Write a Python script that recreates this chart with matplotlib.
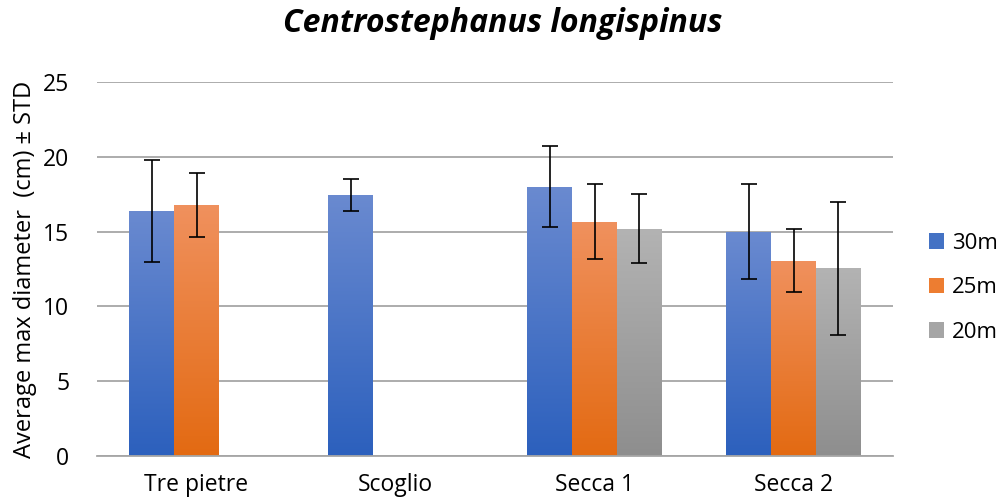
import numpy as np
import matplotlib
matplotlib.use("Agg")
import matplotlib.pyplot as plt
from matplotlib.colors import LinearSegmentedColormap
from matplotlib.patches import Rectangle

sites = ["Tre pietre", "Scoglio", "Secca 1", "Secca 2"]
depths = ["30m", "25m", "20m"]
mean_30 = [16.4, 17.45, 18.0, 15.0]
mean_25 = [16.8, np.nan, 15.65, 13.05]
mean_20 = [np.nan, np.nan, 15.2, 12.55]
std_30 = [3.4, 1.05, 2.7, 3.2]
std_25 = [2.15, np.nan, 2.5, 2.1]
std_20 = [np.nan, np.nan, 2.3, 4.45]

means = [mean_30, mean_25, mean_20]
stds = [std_30, std_25, std_20]
# (top colour, bottom colour) of each series' vertical gradient
grad = [("#6a8ad0", "#2c60bd"), ("#f0915e", "#e36a12"), ("#b3b3b3", "#8e8e8e")]
solid = ["#4472c4", "#ed7d31", "#a5a5a5"]

plt.rcParams["font.family"] = ["Open Sans", "DejaVu Sans"]

fig = plt.figure(figsize=(10.05, 5.0), dpi=100)
ax = fig.add_axes([97 / 1005, 44 / 500, 796 / 1005, 374 / 500])

x = np.arange(len(sites))
w = 0.226
for i, (m, s) in enumerate(zip(means, stds)):
    pos = x + (i - 1) * w
    bars = ax.bar(pos, m, width=w, color="none", edgecolor="none", zorder=2)
    cmap = LinearSegmentedColormap.from_list(f"g{i}", [grad[i][1], grad[i][0]])
    for b, val in zip(bars, m):
        if np.isnan(val):
            continue
        x0, wd = b.get_x(), b.get_width()
        img = ax.imshow(np.linspace(0, 1, 256).reshape(-1, 1), cmap=cmap,
                        aspect="auto", origin="lower",
                        extent=[x0, x0 + wd, 0, val], zorder=2)
        img.set_clip_path(Rectangle((x0, 0), wd, val, transform=ax.transData))
    ax.errorbar(pos, m, yerr=s, fmt="none", ecolor="black", elinewidth=1.2,
                capsize=6, capthick=1.2, zorder=3)
    ax.bar([np.nan], [np.nan], color=solid[i], label=depths[i])

ax.set_xlim(-0.5, len(sites) - 0.5)
ax.set_ylim(0, 25)
ax.set_yticks(range(0, 26, 5))
ax.set_xticks(x)
ax.set_xticklabels(sites)
ax.yaxis.grid(True, color="#a6a6a6", linewidth=1.3, zorder=0)
ax.set_axisbelow(True)
for sp in ["top", "right", "left"]:
    ax.spines[sp].set_visible(False)
ax.spines["bottom"].set_color("#a6a6a6")
ax.spines["bottom"].set_linewidth(1.3)
ax.tick_params(axis="both", length=0, labelsize=16.5, colors="black")
ax.tick_params(axis="y", pad=20)
ax.tick_params(axis="x", pad=12)

ax.set_ylabel("Average max diameter  (cm) \u00b1 STD", fontsize=17, labelpad=4)
fig.suptitle("Centrostephanus longispinus", fontsize=23, fontweight="bold",
             fontstyle="italic", y=0.985)

leg = ax.legend(loc="center left", bbox_to_anchor=(1.02, 0.45), frameon=False,
                fontsize=16, handlelength=0.7, handleheight=0.7,
                handletextpad=0.35, labelspacing=1.05)

fig.savefig("out.png", dpi=100)
